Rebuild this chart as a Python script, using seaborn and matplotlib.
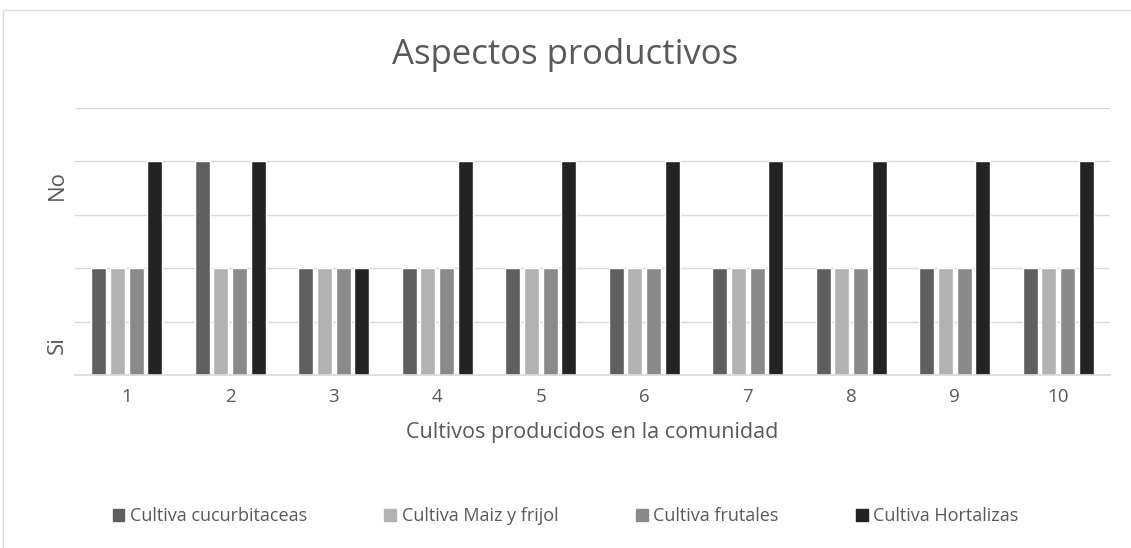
import pandas as pd
import matplotlib.pyplot as plt
import matplotlib.patches as mpatches
import seaborn as sns

# Data (Si = 2, No = 4 on the hidden value axis)
communities = ["1", "2", "3", "4", "5", "6", "7", "8", "9", "10"]
cucurbitaceas = [2, 4, 2, 2, 2, 2, 2, 2, 2, 2]
maiz_frijol = [2, 2, 2, 2, 2, 2, 2, 2, 2, 2]
frutales = [2, 2, 2, 2, 2, 2, 2, 2, 2, 2]
hortalizas = [4, 4, 2, 4, 4, 4, 4, 4, 4, 4]
series_names = ["Cultiva cucurbitaceas", "Cultiva Maiz y frijol", "Cultiva frutales", "Cultiva Hortalizas"]
colors = ["#5f5f5f", "#b2b2b2", "#8a8a8a", "#232323"]

# Long format for seaborn
rows = []
for name, vals in zip(series_names, [cucurbitaceas, maiz_frijol, frutales, hortalizas]):
    for c, v in zip(communities, vals):
        rows.append({"comunidad": c, "valor": v, "serie": name})
df = pd.DataFrame(rows)

sns.set_theme(style="white")
plt.rcParams["font.family"] = ["Open Sans", "DejaVu Sans"]
text_color = "#595959"

fig = plt.figure(figsize=(11.31, 5.48), dpi=100)
ax = fig.add_axes([75 / 1131, 1 - 375 / 548, 1035 / 1131, 267 / 548])

sns.barplot(data=df, x="comunidad", y="valor", hue="serie", palette=colors,
            width=0.72, gap=0.2, order=communities, hue_order=series_names,
            saturation=1, ax=ax, legend=True)

ax.set_ylim(0, 5)
ax.set_yticks([1, 2, 3, 4, 5])
ax.set_yticklabels([])
ax.tick_params(axis="y", length=0)
ax.tick_params(axis="x", length=0, labelsize=13.5, labelcolor=text_color, pad=9)
ax.grid(axis="y", color="#d9d9d9", linewidth=1)
ax.set_axisbelow(True)
for s in ["top", "right", "left"]:
    ax.spines[s].set_visible(False)
ax.spines["bottom"].set_color("#d9d9d9")
ax.set_xlim(-0.5, 9.5)

ax.set_xlabel("Cultivos producidos en la comunidad", fontsize=15.5, color=text_color, labelpad=12)
ax.set_ylabel("")

# Value labels on the vertical axis
trans = ax.get_yaxis_transform()
ax.text(-0.017, 0.56, "Si", transform=trans, rotation=90, ha="center", va="center",
        fontsize=16, color=text_color)
ax.text(-0.017, 3.56, "No", transform=trans, rotation=90, ha="center", va="center",
        fontsize=16, color=text_color)

fig.text(0.5, 1 - 55 / 548, "Aspectos productivos", ha="center", va="center",
         fontsize=25, color=text_color)

handles = [mpatches.Patch(color=c, label=n) for c, n in zip(colors, series_names)]
ax.get_legend().remove()
fig.legend(handles=handles, loc="center", bbox_to_anchor=(0.5, 1 - 516 / 548), ncol=4,
           frameon=False, fontsize=13, labelcolor=text_color, handlelength=0.65,
           handleheight=0.65, handletextpad=0.3, columnspacing=4.3)

# Chart area border
fig.patches.append(mpatches.Rectangle((3 / 1131, -0.1), 1.2, 1 - 10 / 548 + 0.1,
                                      transform=fig.transFigure, fill=False,
                                      edgecolor="#d9d9d9", linewidth=1))

fig.savefig("out.png", dpi=100)
